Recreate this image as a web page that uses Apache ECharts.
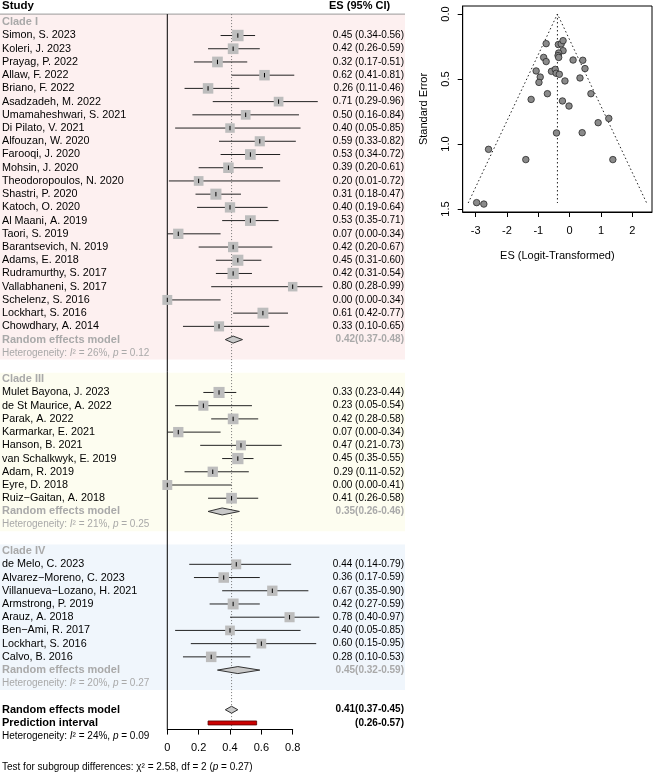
<!DOCTYPE html>
<html>
<head>
<meta charset="utf-8">
<script src="https://cdn.jsdelivr.net/npm/echarts@6/dist/echarts.min.js"></script>
<style>
  html, body { margin: 0; padding: 0; background: #fff; }
  #main { width: 658px; height: 772px; }
</style>
</head>
<body>
<div id="main"></div>
<script>
// study data
var cladeINames = ['Simon, S. 2023', 'Koleri, J. 2023', 'Prayag, P. 2022', 'Allaw, F. 2022', 'Briano, F. 2022',
  'Asadzadeh, M. 2022', 'Umamaheshwari, S. 2021', 'Di Pilato, V. 2021', 'Alfouzan, W. 2020', 'Farooqi, J. 2020',
  'Mohsin, J. 2020', 'Theodoropoulos, N. 2020', 'Shastri, P. 2020', 'Katoch, O. 2020', 'Al Maani, A. 2019',
  'Taori, S. 2019', 'Barantsevich, N. 2019', 'Adams, E. 2018', 'Rudramurthy, S. 2017', 'Vallabhaneni, S. 2017',
  'Schelenz, S. 2016', 'Lockhart, S. 2016', 'Chowdhary, A. 2014']
var cladeIEs = [0.45, 0.42, 0.32, 0.62, 0.26, 0.71, 0.50, 0.40, 0.59, 0.53, 0.39, 0.20, 0.31, 0.40, 0.53, 0.07, 0.42, 0.45, 0.42, 0.80, 0.00, 0.61, 0.33]
var cladeILo = [0.34, 0.26, 0.17, 0.41, 0.11, 0.29, 0.16, 0.05, 0.33, 0.34, 0.20, 0.01, 0.18, 0.19, 0.35, 0.00, 0.20, 0.31, 0.31, 0.28, 0.00, 0.42, 0.10]
var cladeIHi = [0.56, 0.59, 0.51, 0.81, 0.46, 0.96, 0.84, 0.85, 0.82, 0.72, 0.61, 0.72, 0.47, 0.64, 0.71, 0.34, 0.67, 0.60, 0.54, 0.99, 0.34, 0.77, 0.65]
var cladeIWeights = [3.2, 2.8, 2.8, 2.7, 2.7, 2.3, 2.3, 2.2, 2.5, 2.8, 2.7, 2.3, 3.0, 2.6, 2.8, 2.6, 2.6, 3.0, 3.1, 2.2, 2.4, 2.9, 2.5]

var cladeIIINames = ['Mulet Bayona, J. 2023', 'de St Maurice, A. 2022', 'Parak, A. 2022', 'Karmarkar, E. 2021',
  'Hanson, B. 2021', 'van Schalkwyk, E. 2019', 'Adam, R. 2019', 'Eyre, D. 2018', 'Ruiz\u2212Gaitan, A. 2018']
var cladeIIIEs = [0.33, 0.23, 0.42, 0.07, 0.47, 0.45, 0.29, 0.00, 0.41]
var cladeIIILo = [0.23, 0.05, 0.28, 0.00, 0.21, 0.35, 0.11, 0.00, 0.26]
var cladeIIIHi = [0.44, 0.54, 0.58, 0.34, 0.73, 0.55, 0.52, 0.41, 0.58]
var cladeIIIWeights = [3.0, 2.5, 2.8, 2.6, 2.4, 3.1, 2.6, 2.4, 2.8]

var cladeIVNames = ['de Melo, C. 2023', 'Alvarez\u2212Moreno, C. 2023', 'Villanueva\u2212Lozano, H. 2021', 'Armstrong, P. 2019',
  'Arauz, A. 2018', 'Ben\u2212Ami, R. 2017', 'Lockhart, S. 2016', 'Calvo, B. 2016']
var cladeIVEs = [0.44, 0.36, 0.67, 0.42, 0.78, 0.40, 0.60, 0.28]
var cladeIVLo = [0.14, 0.17, 0.35, 0.27, 0.40, 0.05, 0.15, 0.10]
var cladeIVHi = [0.79, 0.59, 0.90, 0.59, 0.97, 0.85, 0.95, 0.53]
var cladeIVWeights = [2.4, 2.7, 2.6, 2.9, 2.5, 2.3, 2.3, 2.7]

var subgroupLabels = ['Clade I', 'Clade III', 'Clade IV']
var subgroupEs = [0.42, 0.35, 0.45]
var subgroupLo = [0.37, 0.26, 0.32]
var subgroupHi = [0.48, 0.46, 0.59]
var subgroupI2 = [26, 21, 20]
var subgroupP = ['0.12', '0.25', '0.27']

var overallEs = 0.41, overallLo = 0.37, overallHi = 0.45
var predLo = 0.26, predHi = 0.57
var overallI2 = 24, overallP = '0.09'
var testChi2 = '2.58', testDf = 2, testP = '0.27'

// funnel plot points (logit ES, standard error)
var funnelX = [-0.75, -0.36, -0.27, -0.21, -0.21, -0.35, -0.37, -0.35, -0.83, -0.75, 0.11, 0.42, 0.49, -1.07, -0.58, -0.46,
  -0.43, -0.33, -0.94, -0.98, -0.15, 0.33, -0.71, 0.68, -1.23, -0.23, -0.02, 1.25, 0.91, -0.42, 0.40, -2.59, -1.40, 1.38, -2.97, -2.74]
var funnelSE = [0.228, 0.235, 0.23, 0.205, 0.282, 0.30, 0.32, 0.334, 0.334, 0.366, 0.354, 0.356, 0.42, 0.438, 0.441, 0.426,
  0.456, 0.464, 0.485, 0.526, 0.515, 0.492, 0.613, 0.613, 0.657, 0.669, 0.708, 0.803, 0.836, 0.915, 0.913, 1.041, 1.12, 1.12, 1.451, 1.462]
var funnelCentre = -0.39
var funnelMaxSE = 1.454
var funnelXTicks = [-3, -2, -1, 0, 1, 2]
var funnelYTicks = [0, 0.5, 1, 1.5]

var FONT = '"Liberation Sans", Arial, Helvetica, sans-serif'
var GRAY = '#a9a9a9'
var rowTop = 22.3, rowH = 13.22
var panelColors = ['#fdf0f0', '#fdfdf0', '#f0f6fc']

var clades = [
  { names: cladeINames, es: cladeIEs, lo: cladeILo, hi: cladeIHi, w: cladeIWeights },
  { names: cladeIIINames, es: cladeIIIEs, lo: cladeIIILo, hi: cladeIIIHi, w: cladeIIIWeights },
  { names: cladeIVNames, es: cladeIVEs, lo: cladeIVLo, hi: cladeIVHi, w: cladeIVWeights }
]

function ci(lo, hi) { return '(' + lo.toFixed(2) + '-' + hi.toFixed(2) + ')' }

var studyData = [], diamondData = [], panelData = [], texts = []
texts.push({ k: -1.23, x: 2, align: 'left', text: 'Study', color: '#000', bold: true, size: 11.5 })
texts.push({ k: -1.23, x: 329, align: 'left', text: 'ES (95% CI)', color: '#000', bold: true, size: 11 })

var k = 0
clades.forEach(function (c, g) {
  var start = k
  texts.push({ k: k, x: 2, align: 'left', text: subgroupLabels[g], color: GRAY, bold: true, size: 11 })
  k++
  c.names.forEach(function (n, i) {
    studyData.push([c.es[i], k, c.lo[i], c.hi[i], c.w[i]])
    texts.push({ k: k, x: 2, align: 'left', text: n, color: '#000', size: 10.8 })
    texts.push({ k: k, x: 404, align: 'right', text: c.es[i].toFixed(2) + ' ' + ci(c.lo[i], c.hi[i]), color: '#000', size: 10 })
    k++
  })
  diamondData.push([subgroupEs[g], k, subgroupLo[g], subgroupHi[g]])
  texts.push({ k: k, x: 2, align: 'left', text: 'Random effects model', color: GRAY, bold: true, size: 11 })
  texts.push({ k: k, x: 404, align: 'right', text: subgroupEs[g].toFixed(2) + ci(subgroupLo[g], subgroupHi[g]), color: GRAY, bold: true, size: 10 })
  k++
  texts.push({ k: k, x: 2, align: 'left', text: 'Heterogeneity: {i|I}\u00b2 = ' + subgroupI2[g] + '%, {i|p} = ' + subgroupP[g], color: GRAY, size: 10 })
  k++
  panelData.push([g === 0 ? -0.62 : start - 0.5, k - 0.5, g])
  k++
})
diamondData.push([overallEs, k, overallLo, overallHi])
texts.push({ k: k, x: 2, align: 'left', text: 'Random effects model', color: '#000', bold: true, size: 11 })
texts.push({ k: k, x: 404, align: 'right', text: overallEs.toFixed(2) + ci(overallLo, overallHi), color: '#000', bold: true, size: 10 })
var predK = k + 1
texts.push({ k: predK, x: 2, align: 'left', text: 'Prediction interval', color: '#000', bold: true, size: 11 })
texts.push({ k: predK, x: 404, align: 'right', text: ci(predLo, predHi), color: '#000', bold: true, size: 10 })
texts.push({ k: k + 2, x: 2, align: 'left', text: 'Heterogeneity: {i|I}\u00b2 = ' + overallI2 + '%, {i|p} = ' + overallP, color: '#000', size: 10 })
texts.push({ k: k + 4.33, x: 2, align: 'left', text: 'Test for subgroup differences: \u03c7\u00b2 = ' + testChi2 + ', df = ' + testDf + ' ({i|p} = ' + testP + ')', color: '#000', size: 10 })
var axisK = k + 1.5

var myChart = echarts.init(document.getElementById('main'))

var kMin = -1, kMax = 56.5
var option = {
  animation: false,
  grid: [
    { left: 167.3, top: rowTop + rowH * kMin, width: 156.75, height: rowH * (kMax - kMin) },
    { left: 167.3, top: rowTop + rowH * axisK - 10, width: 125.4, height: 10 },
    { left: 462.7, top: 6, right: 6, bottom: 560, show: true, borderColor: '#000', borderWidth: 1 }
  ],
  xAxis: [
    { gridIndex: 0, type: 'value', min: 0, max: 1, show: false },
    {
      gridIndex: 1, type: 'value', min: 0, max: 0.8, interval: 0.2,
      axisLine: { onZero: false, lineStyle: { color: '#000', width: 1 } },
      axisTick: { length: 5, lineStyle: { color: '#000' } },
      axisLabel: { color: '#000', fontSize: 11, fontFamily: FONT, margin: 13 },
      splitLine: { show: false }
    },
    {
      gridIndex: 2, type: 'value', min: -3.415, max: 2.63,
      name: 'ES (Logit-Transformed)', nameLocation: 'middle', nameGap: 38,
      nameTextStyle: { color: '#000', fontSize: 11, fontFamily: FONT },
      axisLine: { onZero: false, lineStyle: { color: '#000' } },
      axisTick: { length: 5, customValues: funnelXTicks, lineStyle: { color: '#000' } },
      axisLabel: { customValues: funnelXTicks, color: '#000', fontSize: 11, fontFamily: FONT, margin: 13 },
      splitLine: { show: false }
    }
  ],
  yAxis: [
    { gridIndex: 0, type: 'value', min: kMin, max: kMax, inverse: true, show: false },
    { gridIndex: 1, type: 'value', min: 0, max: 1, show: false },
    {
      gridIndex: 2, type: 'value', min: -0.0615, max: 1.523, inverse: true,
      name: 'Standard Error', nameLocation: 'middle', nameGap: 33, nameRotate: 90,
      nameTextStyle: { color: '#000', fontSize: 11, fontFamily: FONT },
      axisLine: { onZero: false, lineStyle: { color: '#000' } },
      axisTick: { length: 5, customValues: funnelYTicks, lineStyle: { color: '#000' } },
      axisLabel: {
        customValues: funnelYTicks, rotate: 90, color: '#000', fontSize: 11, fontFamily: FONT, margin: 11,
        formatter: function (v) { return v.toFixed(1) }
      },
      splitLine: { show: false }
    }
  ],
  series: [
    {
      // subgroup panels
      type: 'custom', xAxisIndex: 0, yAxisIndex: 0, silent: true, z: 1,
      data: panelData,
      renderItem: function (params, api) {
        var y0 = api.coord([0, api.value(0)])[1]
        var y1 = api.coord([0, api.value(1)])[1]
        return { type: 'rect', shape: { x: 0, y: y0, width: 405, height: y1 - y0 }, style: { fill: panelColors[api.value(2)] } }
      }
    },
    {
      // header rule, no-effect line and overall estimate line
      type: 'custom', xAxisIndex: 0, yAxisIndex: 0, silent: true, z: 2,
      data: [[overallEs, -0.62, axisK]],
      renderItem: function (params, api) {
        var top = api.coord([0, api.value(1)])
        var bot = api.coord([0, api.value(2)])
        var est = api.coord([api.value(0), api.value(1)])
        return {
          type: 'group', children: [
            { type: 'line', shape: { x1: 0, y1: top[1], x2: 405, y2: top[1] }, style: { stroke: '#999', lineWidth: 1 } },
            { type: 'line', shape: { x1: top[0], y1: top[1], x2: bot[0], y2: bot[1] }, style: { stroke: '#000', lineWidth: 1 } },
            { type: 'line', shape: { x1: est[0], y1: top[1], x2: est[0], y2: bot[1] }, style: { stroke: '#777', lineWidth: 1, lineDash: [1, 2] } }
          ]
        }
      }
    },
    {
      // studies: CI line, weighted square, estimate tick
      type: 'custom', xAxisIndex: 0, yAxisIndex: 0, silent: true, z: 3,
      data: studyData,
      renderItem: function (params, api) {
        var c = api.coord([api.value(0), api.value(1)])
        var l = api.coord([api.value(2), api.value(1)])
        var h = api.coord([api.value(3), api.value(1)])
        var s = 6.4 * Math.sqrt(api.value(4))
        return {
          type: 'group', children: [
            { type: 'line', shape: { x1: l[0], y1: l[1], x2: h[0], y2: h[1] }, style: { stroke: '#222', lineWidth: 1 } },
            { type: 'rect', shape: { x: c[0] - s / 2, y: c[1] - s / 2, width: s, height: s }, style: { fill: '#bdbdbd' } },
            { type: 'line', shape: { x1: c[0], y1: c[1] - 2.2, x2: c[0], y2: c[1] + 2.2 }, style: { stroke: '#000', lineWidth: 1 } }
          ]
        }
      }
    },
    {
      // pooled estimates
      type: 'custom', xAxisIndex: 0, yAxisIndex: 0, silent: true, z: 3,
      data: diamondData,
      renderItem: function (params, api) {
        var c = api.coord([api.value(0), api.value(1)])
        var l = api.coord([api.value(2), api.value(1)])
        var h = api.coord([api.value(3), api.value(1)])
        return {
          type: 'polygon',
          shape: { points: [[l[0], l[1]], [c[0], c[1] - 3.5], [h[0], h[1]], [c[0], c[1] + 3.5]] },
          style: { fill: '#c8c8c8', stroke: '#333', lineWidth: 1 }
        }
      }
    },
    {
      // prediction interval
      type: 'custom', xAxisIndex: 0, yAxisIndex: 0, silent: true, z: 3,
      data: [[predLo, predK, predHi]],
      renderItem: function (params, api) {
        var l = api.coord([api.value(0), api.value(1)])
        var h = api.coord([api.value(2), api.value(1)])
        return { type: 'rect', shape: { x: l[0], y: l[1] - 2, width: h[0] - l[0], height: 4 }, style: { fill: '#cc0000', stroke: '#550000', lineWidth: 0.8 } }
      }
    },
    {
      // text columns
      type: 'custom', xAxisIndex: 0, yAxisIndex: 0, silent: true, z: 4,
      data: texts.map(function (t, i) { return [0, t.k, i] }),
      renderItem: function (params, api) {
        var t = texts[api.value(2)]
        var y = api.coord([0, api.value(1)])[1]
        return {
          type: 'text', x: t.x, y: y,
          style: {
            text: t.text, fill: t.color, fontSize: t.size, fontFamily: FONT,
            fontWeight: t.bold ? 'bold' : 'normal', align: t.align, verticalAlign: 'middle',
            rich: { i: { fontStyle: 'italic', fontSize: t.size, fontFamily: FONT, fill: t.color } }
          }
        }
      }
    },
    { type: 'scatter', xAxisIndex: 1, yAxisIndex: 1, data: [], silent: true },
    {
      // funnel limits
      type: 'line', xAxisIndex: 2, yAxisIndex: 2, silent: true, symbol: 'none',
      lineStyle: { color: '#222', width: 1, type: [1.5, 2.5] },
      data: [[funnelCentre - 1.96 * funnelMaxSE, funnelMaxSE], [funnelCentre, 0], [funnelCentre + 1.96 * funnelMaxSE, funnelMaxSE]]
    },
    {
      type: 'line', xAxisIndex: 2, yAxisIndex: 2, silent: true, symbol: 'none',
      lineStyle: { color: '#222', width: 1, type: [1.5, 2.5] },
      data: [[funnelCentre, 0], [funnelCentre, funnelMaxSE]]
    },
    {
      type: 'scatter', xAxisIndex: 2, yAxisIndex: 2, silent: true, symbolSize: 6.5, z: 5,
      itemStyle: { color: '#8a8a8a', borderColor: '#2a2a2a', borderWidth: 0.8, opacity: 1 },
      data: funnelX.map(function (x, i) { return [x, funnelSE[i]] })
    }
  ]
}

myChart.setOption(option)
</script>
</body>
</html>
